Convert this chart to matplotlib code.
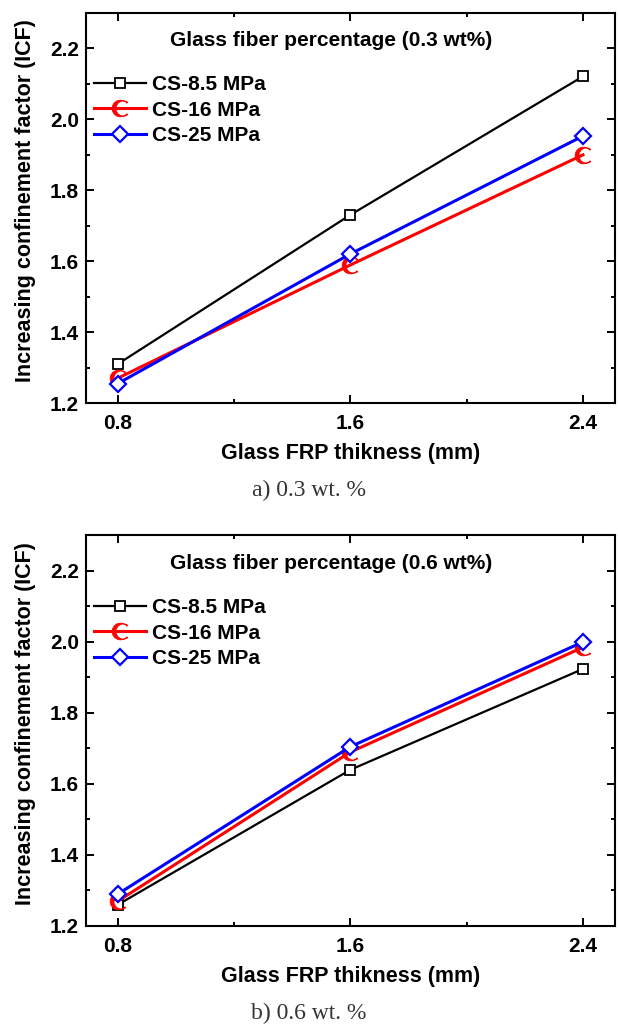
import numpy as np
import matplotlib
matplotlib.use("Agg")
import matplotlib.pyplot as plt
from matplotlib.path import Path
from matplotlib.ticker import MultipleLocator

plt.rcParams["font.family"] = ["Liberation Sans", "DejaVu Sans"]
plt.rcParams["font.weight"] = "bold"

thickness = [0.8, 1.6, 2.4]
series_names = ["CS-8.5 MPa", "CS-16 MPa", "CS-25 MPa"]
icf_03 = {
    "CS-8.5 MPa": [1.31, 1.73, 2.12],
    "CS-16 MPa": [1.27, 1.589, 1.899],
    "CS-25 MPa": [1.255, 1.62, 1.952],
}
icf_06 = {
    "CS-8.5 MPa": [1.26, 1.64, 1.924],
    "CS-16 MPa": [1.27, 1.69, 1.985],
    "CS-25 MPa": [1.29, 1.705, 2.0],
}
panel_titles = ["Glass fiber percentage (0.3 wt%)", "Glass fiber percentage (0.6 wt%)"]
captions = ["a) 0.3 wt. %", "b) 0.6 wt. %"]


def crescent_marker():
    """Left-facing crescent, like Origin's half-moon symbol."""
    outer = Path.arc(40, 320)
    inner = Path.arc(55, 305)
    iv = inner.vertices[::-1] * 0.9 + np.array([0.36, 0.0])
    verts = np.concatenate([outer.vertices, iv, outer.vertices[:1]])
    codes = [Path.MOVETO] + [Path.LINETO] * (len(verts) - 2) + [Path.CLOSEPOLY]
    return Path(verts, codes)


STYLES = {
    "CS-8.5 MPa": dict(color="black", lw=1.6, marker="s", ms=7.5, mfc="white", mew=1.3),
    "CS-16 MPa": dict(color="red", lw=2.2, marker=crescent_marker(), ms=12, mfc="red", mew=0.6),
    "CS-25 MPa": dict(color="blue", lw=2.2, marker="D", ms=8, mfc="white", mew=1.6),
}

fig = plt.figure(figsize=(6.18, 10.25), dpi=100)
boxes = [[0.139, 0.6068, 0.856, 0.381], [0.139, 0.0966, 0.856, 0.381]]

for k, data in enumerate([icf_03, icf_06]):
    ax = fig.add_axes(boxes[k])
    for name in series_names:
        ax.plot(thickness, data[name], label=name, zorder=3, **STYLES[name])
    ax.set_xlim(0.69, 2.51)
    ax.set_ylim(1.2, 2.3)
    ax.set_xticks(thickness)
    ax.xaxis.set_minor_locator(MultipleLocator(0.4))
    ax.set_yticks([1.2, 1.4, 1.6, 1.8, 2.0, 2.2])
    ax.yaxis.set_minor_locator(MultipleLocator(0.1))
    ax.tick_params(which="both", direction="in", top=True, right=True, width=1.4,
                   labelsize=15)
    ax.tick_params(which="major", length=6)
    ax.tick_params(axis="x", which="major", pad=8)
    ax.tick_params(axis="y", which="major", pad=5)
    ax.tick_params(which="minor", length=3)
    for sp in ax.spines.values():
        sp.set_linewidth(1.5)
    ax.set_xlabel("Glass FRP thikness (mm)", fontsize=15.5, fontweight="bold", labelpad=7)
    ax.set_ylabel("Increasing confinement factor (ICF)", fontsize=15.5, fontweight="bold")
    ax.yaxis.set_label_coords(-0.094, 0.518)
    ax.text(0.463, 0.929, panel_titles[k], transform=ax.transAxes, ha="center",
            va="center", fontsize=15, fontweight="bold")
    ax.legend(loc="upper left", bbox_to_anchor=(-0.012, 0.877), frameon=False,
              fontsize=15, handlelength=2.5, handletextpad=0.3, labelspacing=0.32,
              borderaxespad=0.3)
    cap_y = boxes[k][1] - 0.085
    fig.text(0.5, cap_y, captions[k], ha="center", va="center", fontsize=17,
             family="Liberation Serif", fontweight="normal", color="#333333")

fig.savefig("out.png", dpi=100)
